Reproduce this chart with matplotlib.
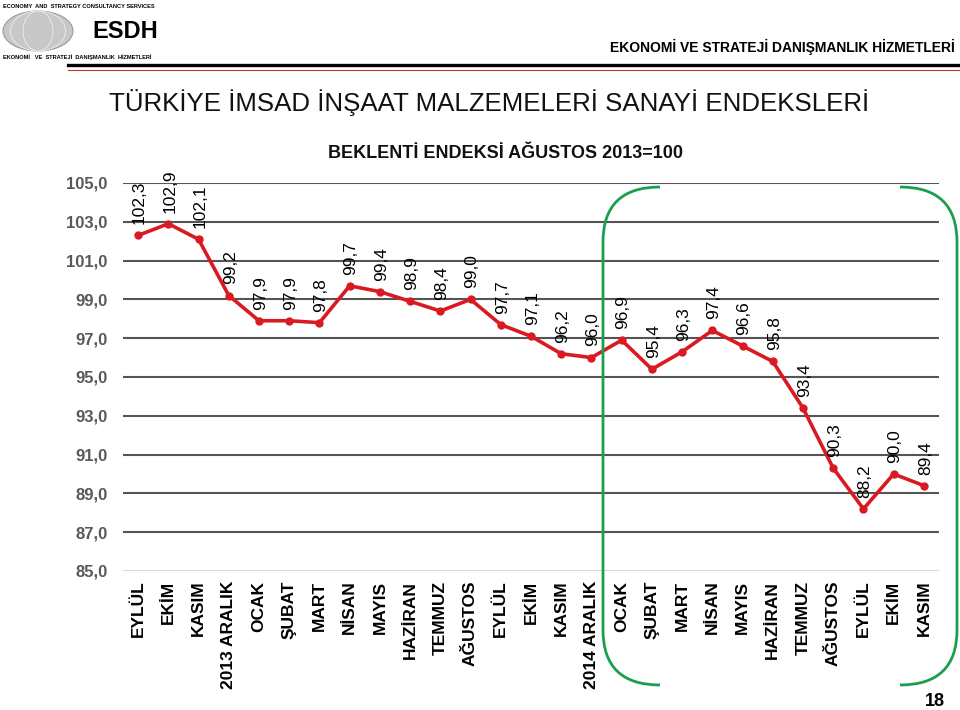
import numpy as np
import matplotlib.pyplot as plt
from matplotlib.patches import Ellipse, PathPatch
from matplotlib.path import Path

plt.rcParams['font.family'] = ['Liberation Sans', 'DejaVu Sans']

months = ['EYLÜL', 'EKİM', 'KASIM', '2013 ARALIK', 'OCAK', 'ŞUBAT', 'MART', 'NİSAN',
          'MAYIS', 'HAZİRAN', 'TEMMUZ', 'AĞUSTOS', 'EYLÜL', 'EKİM', 'KASIM', '2014 ARALIK',
          'OCAK', 'ŞUBAT', 'MART', 'NİSAN', 'MAYIS', 'HAZİRAN', 'TEMMUZ', 'AĞUSTOS',
          'EYLÜL', 'EKİM', 'KASIM']
values = [102.3, 102.9, 102.1, 99.2, 97.9, 97.9, 97.8, 99.7, 99.4, 98.9, 98.4, 99.0,
          97.7, 97.1, 96.2, 96.0, 96.9, 95.4, 96.3, 97.4, 96.6, 95.8, 93.4, 90.3,
          88.2, 90.0, 89.4]
yticks = [85, 87, 89, 91, 93, 95, 97, 99, 101, 103, 105]

W, H = 960, 710
fig = plt.figure(figsize=(9.6, 7.1), dpi=100)

def fx(x):
    return x / W

def fy(y):
    return 1 - y / H

# plot area in pixel coords
L, R, T, B = 123, 939, 183, 571
ax = fig.add_axes([fx(L), fy(B), fx(R) - fx(L), fy(T) - fy(B)])

x = np.arange(len(values))
ax.plot(x, values, color='#DA1A22', lw=2.6, marker='o', ms=5, zorder=3)
for xi, v in zip(x, values):
    ax.annotate(('%.1f' % v).replace('.', ','), (xi, v), xytext=(1, 8),
                textcoords='offset points', rotation=90, ha='center', va='bottom',
                fontsize=12.5, color='black')

ax.set_xlim(-0.5, len(values) - 0.5)
ax.set_ylim(85, 105)
ax.set_yticks(yticks)
ax.set_yticklabels([('%.1f' % t).replace('.', ',') for t in yticks],
                   fontsize=12, fontweight='bold', color='#595959')
ax.set_xticks(x)
ax.set_xticklabels(months, rotation=90, fontsize=12.5, fontweight='bold', va='top')
ax.tick_params(axis='y', length=0, pad=11)
ax.tick_params(axis='x', length=0, pad=7)
for t in yticks[1:]:
    ax.axhline(t, color='#555555', lw=1.5, zorder=1)
ax.axhline(85, color='#d0d0d0', lw=1.2, zorder=1)
for s in ax.spines.values():
    s.set_visible(False)

# green brackets around 2014 months
def px_path(pts, codes):
    return Path([(fx(a), fy(b)) for a, b in pts], codes)

r = 55
left = [(660, 187), (603, 187), (603, 187 + r), (603, 685 - r), (603, 685), (660, 685)]
right = [(900, 187), (957, 187), (957, 187 + r), (957, 685 - r), (957, 685), (900, 685)]
codes = [Path.MOVETO, Path.CURVE3, Path.CURVE3, Path.LINETO, Path.CURVE3, Path.CURVE3]
for pts in (left, right):
    fig.add_artist(PathPatch(px_path(pts, codes), transform=fig.transFigure,
                             fill=False, edgecolor='#1A9E50', lw=2))

# header
fig.text(fx(3), fy(6), 'ECONOMY  AND  STRATEGY CONSULTANCY SERVICES', fontsize=4.1,
         fontweight='bold', va='center')
fig.add_artist(Ellipse((fx(38), fy(31)), fx(70), 1 - fy(40), transform=fig.transFigure,
                       facecolor='#c8c8c8', edgecolor='#9a9a9a', lw=0.8))
for wdt in (30, 55):
    fig.add_artist(Ellipse((fx(38), fy(31)), fx(wdt), 1 - fy(40),
                           transform=fig.transFigure, fill=False,
                           edgecolor='#eeeeee', lw=0.6))
fig.text(fx(92), fy(31), 'ESDH', fontsize=17, fontweight='bold', va='center')
fig.text(fx(3), fy(57), 'EKONOMİ   VE  STRATEJİ  DANIŞMANLIK  HİZMETLERİ', fontsize=4.1,
         fontweight='bold', va='center')
fig.text(fx(955), fy(47), 'EKONOMİ VE STRATEJİ DANIŞMANLIK HİZMETLERİ', fontsize=10,
         fontweight='bold', ha='right', va='center')
fig.add_artist(plt.Line2D([fx(68), 1], [fy(65), fy(65)], color='black', lw=2.4))
fig.add_artist(plt.Line2D([fx(68), 1], [fy(69.5), fy(69.5)], color='#C0392B', lw=0.8))

fig.text(fx(489), fy(103), 'TÜRKİYE İMSAD İNŞAAT MALZEMELERİ SANAYİ ENDEKSLERİ',
         fontsize=18.6, ha='center', va='center', color='#111111')
fig.text(fx(506), fy(153), 'BEKLENTİ ENDEKSİ AĞUSTOS 2013=100', fontsize=13,
         fontweight='bold', ha='center', va='center', color='#111111')
fig.text(fx(935), fy(702), '18', fontsize=13, fontweight='bold', ha='center', va='center')

fig.savefig('out.png', dpi=100)
